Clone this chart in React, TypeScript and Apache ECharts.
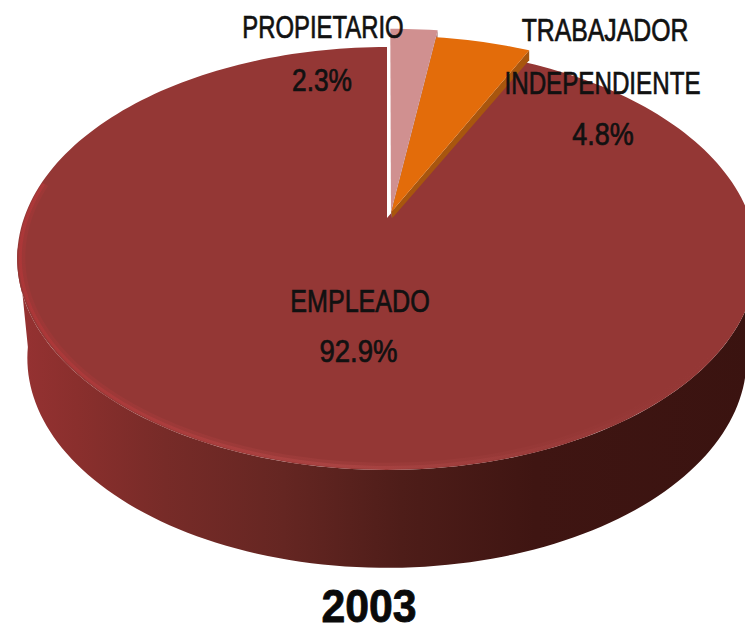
import React, { useEffect, useRef } from "react";
import * as echarts from "echarts";

// ---- data ----
const categories = ["EMPLEADO", "PROPIETARIO", "TRABAJADOR INDEPENDIENTE"];
const shares = [92.9, 2.3, 4.8];
const yearLabel = "2003";

// ---- styling, separate from data ----
const sliceColors = ["#943735", "#d09090", "#e36c0a"];
const sliceSideColors = ["#6e2a26", "#a87878", "#a8560e"];
const faceRadius = [1, 1.1, 1.05];
const offsetU = [0, 0.011, 0.012];
const offsetV = [0, 0.03, 0.03];
const labelLines = [["EMPLEADO"], ["PROPIETARIO"], ["TRABAJADOR", "INDEPENDIENTE"]];
const labelBoxes = [
  [{ x: 360, y: 301, sx: 0.81 }, { x: 358.5, y: 351, sx: 0.89 }],
  [{ x: 323, y: 27, sx: 0.77 }, { x: 322, y: 80, sx: 0.85 }],
  [{ x: 605, y: 31, sx: 0.8 }, { x: 602.5, y: 83, sx: 0.78 }, { x: 603, y: 134, sx: 0.87 }],
];

const CX = 387;
const APEX_Y = 218;
const PERSP = 0.1915;
const R = 363;
const B = 203.7;
const BOTTOM_R = 353;
const BOTTOM_B = 202;
const BOTTOM_APEX_Y = 318;

const project = (u: number, v: number, r = R, b = B, ay = APEX_Y): number[] => {
  const d = 1 + PERSP * v;
  return [CX + (r * u) / d, ay - (b * v) / d];
};
const rim = (deg: number, rr = 1, du = 0, dv = 0): number[] => {
  const a = (deg * Math.PI) / 180;
  return project(du + rr * Math.sin(a), dv + rr * Math.cos(a));
};
const arcPoints = (from: number, to: number, rr = 1, du = 0, dv = 0): number[][] => {
  const n = Math.max(4, Math.ceil(Math.abs(to - from) / 1.5));
  const out: number[][] = [];
  for (let i = 0; i <= n; i++) out.push(rim(from + ((to - from) * i) / n, rr, du, dv));
  return out;
};

const total = shares.reduce((a, b) => a + b, 0);
const startAngle = ((total - shares[0]) / total) * 360;

const sideGradient = () =>
  new echarts.graphic.LinearGradient(0, 0, 1, 0, [
    { offset: 0, color: "#963232" },
    { offset: 0.08, color: "#8a2f2d" },
    { offset: 0.2, color: "#772b28" },
    { offset: 0.36, color: "#652622" },
    { offset: 0.52, color: "#4e1d19" },
    { offset: 0.7, color: "#3f1512" },
    { offset: 1, color: "#3a1310" },
  ]);

const rimGradient = (alpha: number) =>
  new echarts.graphic.LinearGradient(0, 0, 1, 0, [
    { offset: 0, color: `rgba(205,55,60,${alpha})` },
    { offset: 0.45, color: `rgba(200,85,85,${alpha})` },
    { offset: 0.8, color: `rgba(170,70,70,${alpha * 0.5})` },
    { offset: 1, color: "rgba(150,55,55,0)" },
  ]);

const renderItem = (params: any, api: any) => {
  const i = params.dataIndex;
  const value = api.value(0);
  let before = 0;
  for (let k = 0; k < i; k++) before += shares[k];
  const start = startAngle + (before / total) * 360;
  const end = start + (value / total) * 360;
  const rr = faceRadius[i];
  const du = offsetU[i];
  const dv = offsetV[i];
  const apex = project(du, dv);
  const children: any[] = [];

  if (i === 0) {
    const bottom: number[][] = [];
    for (let d = 262; d >= 98; d -= 1.5) {
      const a = (d * Math.PI) / 180;
      bottom.push(project(Math.sin(a), Math.cos(a), BOTTOM_R, BOTTOM_B, BOTTOM_APEX_Y));
    }
    children.push({
      type: "polygon",
      shape: { points: [...bottom, ...arcPoints(98, 262)] },
      style: { fill: sideGradient() },
    });
  } else {
    const tip = rim(end, rr, du, dv);
    children.push({
      type: "polygon",
      shape: { points: [apex, tip, [tip[0], tip[1] + 10], [apex[0] + 1, apex[1] + 6]] },
      style: { fill: sliceSideColors[i] },
    });
  }

  children.push({
    type: "polygon",
    shape: { points: [apex, ...arcPoints(start, end, rr, du, dv)] },
    style: { fill: sliceColors[i] },
  });

  if (i === 0) {
    children.push({
      type: "polyline",
      shape: { points: arcPoints(280, 120, 0.988) },
      style: { fill: "none", stroke: rimGradient(0.16), lineWidth: 7 },
    });
    children.push({
      type: "polyline",
      shape: { points: arcPoints(280, 120, 0.992) },
      style: { fill: "none", stroke: rimGradient(0.3), lineWidth: 3 },
    });
  }

  const pct = `${value.toFixed(1)}%`;
  const lines = [...labelLines[i], pct];
  lines.forEach((txt, k) => {
    const b = labelBoxes[i][k];
    children.push({
      type: "text",
      x: b.x,
      y: b.y,
      scaleX: b.sx,
      z2: 50,
      style: {
        text: txt,
        fill: "#111111",
        stroke: "#111111",
        lineWidth: 0.7,
        font: '31px "Liberation Sans"',
        align: "center",
        verticalAlign: "middle",
      },
    });
  });

  return { type: "group", children };
};

export default function App() {
  const ref = useRef<HTMLDivElement>(null);
  useEffect(() => {
    const chart = echarts.init(ref.current!, null, { renderer: "svg" });
    chart.setOption({
      animation: false,
      backgroundColor: "#ffffff",
      graphic: [
        {
          type: "text",
          x: 369,
          y: 606,
          scaleX: 0.93,
          z: 100,
          style: {
            text: yearLabel,
            fill: "#0a0a0a",
            stroke: "#0a0a0a",
            lineWidth: 0.8,
            font: 'bold 46px "Liberation Sans"',
            align: "center",
            verticalAlign: "middle",
          },
        },
      ],
      series: [
        {
          type: "custom",
          coordinateSystem: "none",
          renderItem,
          clip: false,
          silent: true,
          data: categories.map((name, i) => ({ name, value: shares[i] })),
        },
      ],
    });
    return () => chart.dispose();
  }, []);
  return <div ref={ref} style={{ position: "absolute", left: 0, top: 0, width: 745, height: 633 }} />;
}
